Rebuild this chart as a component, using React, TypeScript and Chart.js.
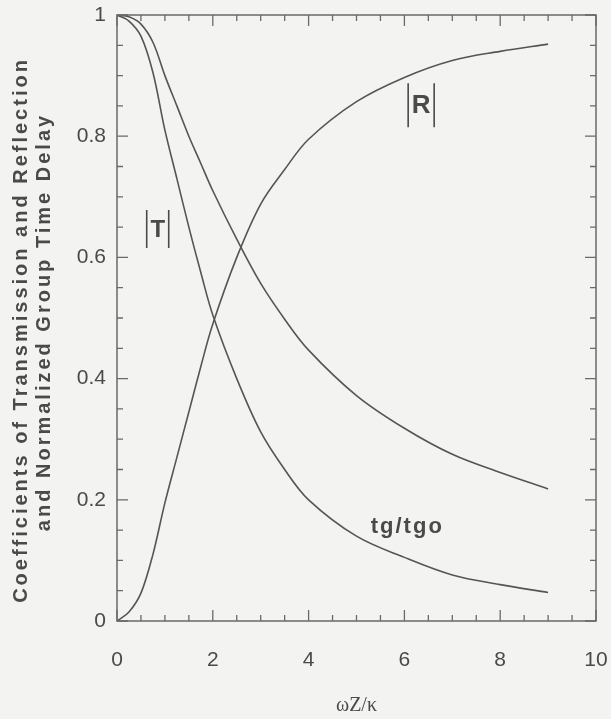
import React, { useEffect, useRef } from "react";
import { Chart, registerables } from "chart.js";

Chart.register(...registerables);

// ---- data ----
const xValues = [0, 0.25, 0.5, 0.75, 1, 1.25, 1.5, 1.75, 2, 2.5, 3, 3.5, 4, 5, 6, 7, 8, 9];
const steepCurve = [1, 0.99, 0.965, 0.905, 0.81, 0.73, 0.65, 0.575, 0.505, 0.4, 0.312, 0.25, 0.2, 0.14, 0.105, 0.076, 0.06, 0.047];
const slowCurve = [1, 0.997, 0.985, 0.955, 0.9, 0.85, 0.8, 0.755, 0.71, 0.63, 0.557, 0.498, 0.447, 0.372, 0.318, 0.275, 0.245, 0.218];
const reflection = [0, 0.015, 0.046, 0.11, 0.195, 0.27, 0.345, 0.42, 0.49, 0.6, 0.688, 0.745, 0.795, 0.857, 0.897, 0.925, 0.94, 0.952];
const xTickLabels = [0, 2, 4, 6, 8, 10];
const yTickLabels = [0, 0.2, 0.4, 0.6, 0.8, 1];

const yTitleLines = ["Coefficients of Transmission and Reflection", "and Normalized Group Time Delay"];
const xTitle = "\u03c9Z/\u03ba";

const INK = "#4a4a4a";
const LINE = "#555555";
const BG = "#f3f3f2";

const toPoints = (ys: number[]) => xValues.map((x, i) => ({ x, y: ys[i] }));

const decorPlugin = {
  id: "decor",
  beforeDraw(chart: any) {
    const ctx = chart.ctx;
    ctx.save();
    ctx.fillStyle = BG;
    ctx.fillRect(0, 0, chart.width, chart.height);
    ctx.restore();
  },
  afterDraw(chart: any) {
    const ctx = chart.ctx;
    const { left, right, top, bottom } = chart.chartArea;
    const xs = chart.scales.x;
    const ys = chart.scales.y;
    ctx.save();
    // frame
    ctx.strokeStyle = "#6a6a6a";
    ctx.lineWidth = 1.5;
    ctx.strokeRect(left, top, right - left, bottom - top);
    // inward ticks on all four sides
    ctx.lineWidth = 1.3;
    ctx.beginPath();
    for (let i = 0; i <= 20; i++) {
      const v = i * 0.5;
      const px = xs.getPixelForValue(v);
      const len = i % 4 === 0 ? 11 : 6;
      ctx.moveTo(px, bottom);
      ctx.lineTo(px, bottom - len);
      ctx.moveTo(px, top);
      ctx.lineTo(px, top + len);
    }
    for (let i = 0; i <= 20; i++) {
      const v = i * 0.05;
      const py = ys.getPixelForValue(v);
      const len = i % 4 === 0 ? 11 : 6;
      ctx.moveTo(left, py);
      ctx.lineTo(left + len, py);
      ctx.moveTo(right, py);
      ctx.lineTo(right - len, py);
    }
    ctx.stroke();

    // curve labels
    ctx.fillStyle = INK;
    ctx.strokeStyle = INK;
    ctx.textAlign = "center";
    ctx.textBaseline = "middle";
    const drawAbs = (ch: string, xv: number, yv: number, size: number, half: number, hh: number) => {
      const cx = xs.getPixelForValue(xv);
      const cy = ys.getPixelForValue(yv);
      ctx.font = `bold ${size}px "Liberation Sans", Arial, sans-serif`;
      ctx.fillText(ch, cx, cy + 1);
      ctx.lineWidth = 1.6;
      ctx.beginPath();
      ctx.moveTo(cx - half, cy - hh);
      ctx.lineTo(cx - half, cy + hh);
      ctx.moveTo(cx + half, cy - hh);
      ctx.lineTo(cx + half, cy + hh);
      ctx.stroke();
    };
    drawAbs("T", 0.85, 0.647, 24, 11, 19);
    drawAbs("R", 6.35, 0.851, 26, 13, 22);

    ctx.font = 'bold 22px "Liberation Sans", Arial, sans-serif';
    (ctx as any).letterSpacing = "2px";
    ctx.fillText("tg/tgo", xs.getPixelForValue(6.06), ys.getPixelForValue(0.155));

    // x title
    (ctx as any).letterSpacing = "0px";
    ctx.font = '20px "Liberation Serif", "Times New Roman", serif';
    ctx.textBaseline = "alphabetic";
    ctx.fillText(xTitle, (left + right) / 2, 711);

    // y title (two rotated lines)
    ctx.font = 'bold 20px "Liberation Sans", Arial, sans-serif';
    (ctx as any).letterSpacing = "3px";
    const bases = [27, 50];
    const centers = [330, 322];
    yTitleLines.forEach((t, i) => {
      ctx.save();
      ctx.translate(bases[i], centers[i]);
      ctx.rotate(-Math.PI / 2);
      ctx.fillText(t, 0, 0);
      ctx.restore();
    });
    ctx.restore();
  },
};

export default function App() {
  const ref = useRef<HTMLCanvasElement | null>(null);
  useEffect(() => {
    document.body.style.margin = "0";
    document.body.style.background = BG;
    const canvas = ref.current!;
    const ds = (data: number[]) => ({
      data: toPoints(data),
      borderColor: LINE,
      borderWidth: 1.6,
      pointRadius: 0,
      tension: 0.35,
      fill: false,
    });
    const chart = new Chart(canvas, {
      type: "line",
      data: {
        datasets: [ds(steepCurve), ds(slowCurve), ds(reflection)],
      },
      options: {
        animation: false,
        responsive: false,
        devicePixelRatio: 1,
        layout: { padding: { left: 0, top: 15, right: 15, bottom: 0 } },
        plugins: { legend: { display: false }, tooltip: { enabled: false } },
        scales: {
          x: {
            type: "linear",
            min: 0,
            max: 10,
            afterBuildTicks: (s: any) => {
              s.ticks = xTickLabels.map((v) => ({ value: v }));
            },
            afterFit: (s: any) => {
              s.height = 98;
              s.paddingLeft = 0;
              s.paddingRight = 0;
            },
            grid: { display: false, drawTicks: false },
            border: { display: false },
            ticks: {
              color: INK,
              font: { family: '"Liberation Sans", Arial, sans-serif', size: 21 },
              padding: 27,
              maxRotation: 0,
              autoSkip: false,
              callback: (v: any) => String(Number(v)),
            },
          },
          y: {
            type: "linear",
            min: 0,
            max: 1,
            afterBuildTicks: (s: any) => {
              s.ticks = yTickLabels.map((v) => ({ value: v }));
            },
            afterFit: (s: any) => {
              s.width = 117;
              s.paddingTop = 0;
              s.paddingBottom = 0;
            },
            grid: { display: false, drawTicks: false },
            border: { display: false },
            ticks: {
              color: INK,
              font: { family: '"Liberation Sans", Arial, sans-serif', size: 21 },
              padding: 11,
              autoSkip: false,
              callback: (v: any) => String(Number(v)),
            },
          },
        },
      },
      plugins: [decorPlugin],
    } as any);
    return () => chart.destroy();
  }, []);
  return (
    <div style={{ width: 611, height: 719 }}>
      <canvas ref={ref} width={611} height={719} style={{ display: "block" }} />
    </div>
  );
}
